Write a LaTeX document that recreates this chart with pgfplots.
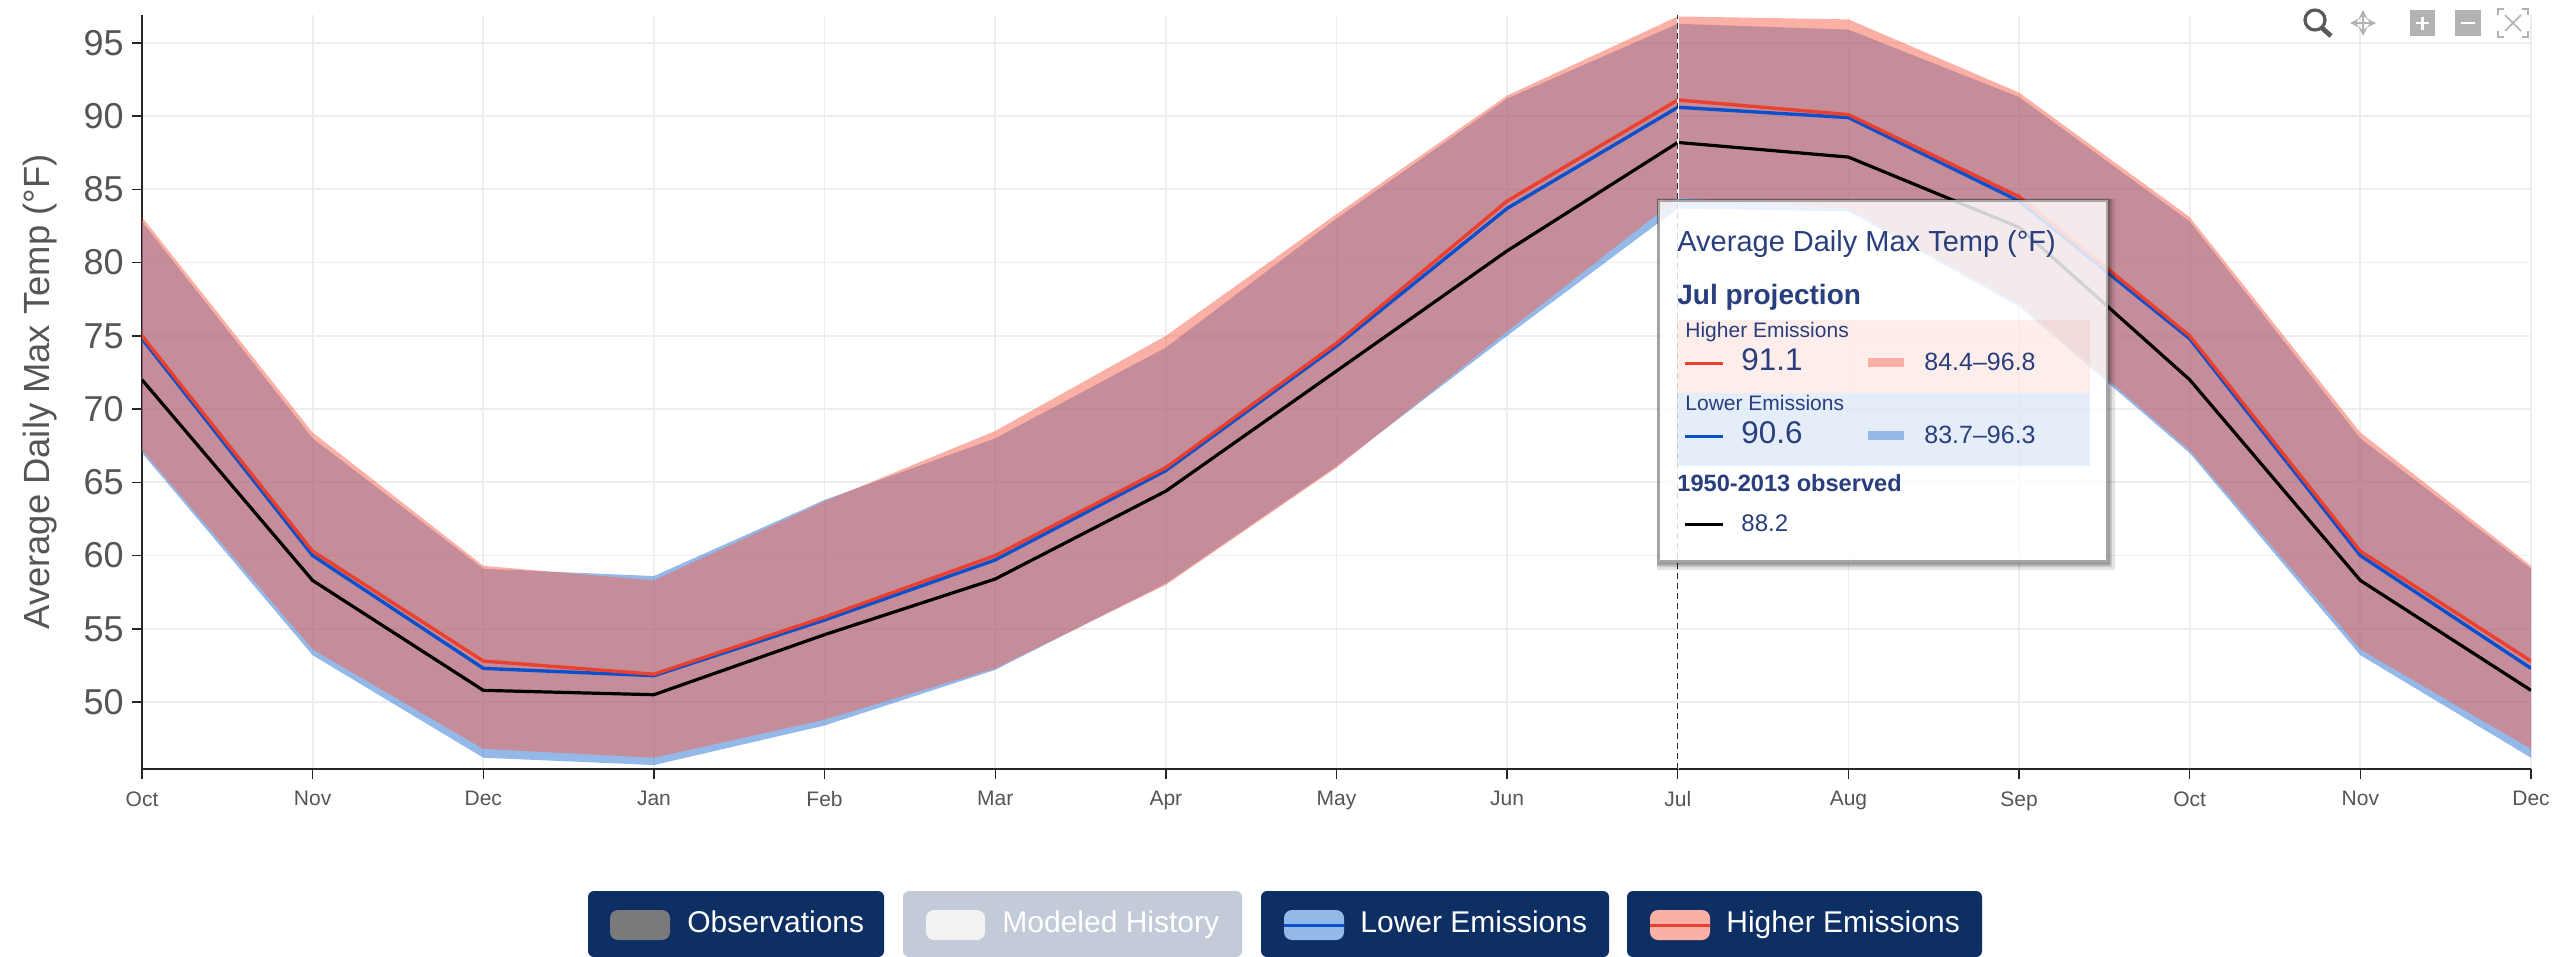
\documentclass[border=0pt]{standalone}
\usepackage{fontspec}
\setmainfont{Liberation Sans}
\usepackage{pgfplots}
\usepackage{pgfplotstable}
\pgfplotsset{compat=1.18}
\definecolor{hiband}{RGB}{247,97,77}
\definecolor{loband}{RGB}{41,113,209}
\definecolor{hiline}{RGB}{235,64,45}
\definecolor{loline}{RGB}{10,80,205}
\definecolor{navy}{RGB}{13,47,99}
\definecolor{tipink}{RGB}{40,62,125}
\definecolor{axtext}{RGB}{85,85,85}
\definecolor{gridc}{RGB}{238,238,238}
\definecolor{hiswatch}{RGB}{251,176,166}
\definecolor{loswatch}{RGB}{148,184,232}
\pgfplotstableread{
x hm lm ob
0 75.0 74.8 72.0
1 60.3 60.0 58.3
2 52.8 52.3 50.8
3 51.9 51.8 50.5
4 55.8 55.6 54.6
5 60.0 59.7 58.4
6 66.0 65.8 64.4
7 74.5 74.3 72.6
8 84.2 83.7 80.8
9 91.1 90.6 88.2
10 90.1 89.9 87.2
11 84.5 84.2 82.4
12 75.0 74.8 72.0
13 60.3 60.0 58.3
14 52.8 52.3 50.8
}\linedata
\newcommand{\txt}[4]{\node[anchor=west,inner sep=0pt,text=#4,text height=0.72em,text depth=0pt,font=\fontsize{#3}{#3}\selectfont] at (#1) {#2};}
\begin{document}
\begin{tikzpicture}
\useasboundingbox (0,0) rectangle (1277pt,-478.5pt);
\begin{axis}[
  at={(71pt,-384.5pt)},anchor=south west,
  scale only axis,width=1194.5pt,height=377pt,
  xmin=0,xmax=14,ymin=45.43,ymax=96.9,
  axis lines=left,axis line style={-,line width=1pt,color=black!85},
  xtick={0,...,14},
  xticklabels={Oct,Nov,Dec,Jan,Feb,Mar,Apr,May,Jun,Jul,Aug,Sep,Oct,Nov,Dec},
  ytick={50,55,...,95},
  grid=major,grid style={color=gridc,line width=0.9pt},
  tick style={color=black!85,line width=0.7pt},
  tick align=outside,
  major tick length=5pt,
  /pgf/number format/assume math mode=true,
  yticklabel style={font=\fontsize{18}{18}\selectfont,text=axtext,inner sep=0pt,xshift=-4pt},
  xticklabel style={font=\fontsize{10.5}{10.5}\selectfont,text=axtext,inner sep=0pt,yshift=-6pt},
  ylabel={Average Daily Max Temp (°F)},
  every axis y label/.style={at={(axis description cs:-0.0427,0.5)},rotate=90,anchor=center,font=\fontsize{18.2}{18.2}\selectfont,text=axtext},
  clip=true,
]
% Lower Emissions range
\addplot[fill=loband,fill opacity=0.5,draw=none,forget plot] coordinates {
 (0,82.8)(1,68.0)(2,59.1)(3,58.6)(4,63.8)(5,68.0)(6,74.2)(7,83.0)(8,91.2)(9,96.3)(10,95.9)(11,91.3)(12,82.8)(13,68.0)(14,59.1)
 (14,46.2)(13,53.2)(12,67.0)(11,77.0)(10,83.5)(9,83.7)(8,75.0)(7,66.1)(6,58.1)(5,52.2)(4,48.4)(3,45.7)(2,46.2)(1,53.2)(0,67.0)} -- cycle;
% Higher Emissions range
\addplot[fill=hiband,fill opacity=0.5,draw=none,forget plot] coordinates {
 (0,83.1)(1,68.4)(2,59.3)(3,58.3)(4,63.7)(5,68.5)(6,75.0)(7,83.3)(8,91.4)(9,96.8)(10,96.6)(11,91.6)(12,83.1)(13,68.4)(14,59.3)
 (14,46.8)(13,53.6)(12,67.2)(11,77.2)(10,83.7)(9,84.4)(8,75.3)(7,66.0)(6,58.0)(5,52.3)(4,48.8)(3,46.2)(2,46.8)(1,53.6)(0,67.2)} -- cycle;
\addplot[loline,line width=1.7pt] table[x=x,y=lm]{\linedata};
\addplot[hiline,line width=1.7pt] table[x=x,y=hm]{\linedata};
\addplot[black,line width=1.6pt] table[x=x,y=ob]{\linedata};
\addplot[white,line width=0.8pt] coordinates {(9,45.43)(9,96.9)};
\addplot[black!85,line width=0.6pt,dash pattern=on 3pt off 2pt] coordinates {(9,45.43)(9,96.9)};
\end{axis}
\begin{scope}[x=0.5pt,y=-0.5pt]
% tooltip shadow, a ring round the box
\fill[black,opacity=0.10,even odd rule] (1657,199) rectangle (2115,570) (1659,201) rectangle (2107,561);
\fill[black,opacity=0.14,even odd rule] (1657,199) rectangle (2112,567) (1659,201) rectangle (2107,561);
\fill[black,opacity=0.20,even odd rule] (1657,199) rectangle (2110,565) (1659,201) rectangle (2107,561);
% tooltip
\fill[white,opacity=0.82] (1659,201) rectangle (2107,561);
\draw[black!35,line width=0.6pt] (1659,201) rectangle (2107,561);
\fill[hiband,opacity=0.11] (1677,320) rectangle (2090,393);
\fill[loband,opacity=0.12] (1677,393) rectangle (2090,466);
\txt{1677,244}{Average Daily Max Temp (°F)}{14.5}{tipink}
\txt{1677,297}{\bfseries Jul projection}{14}{tipink}
\txt{1685,330}{Higher Emissions}{10.5}{tipink}
\draw[hiline,line width=1.5pt] (1685,363) -- (1723,363);
\txt{1741,363}{91.1}{15.7}{tipink}
\fill[hiswatch] (1868,358) rectangle (1904,367);
\txt{1924,363}{84.4–96.8}{12.5}{tipink}
\txt{1685,403}{Lower Emissions}{10.5}{tipink}
\draw[loline,line width=1.5pt] (1685,436) -- (1723,436);
\txt{1741,436}{90.6}{15.7}{tipink}
\fill[loswatch] (1868,431) rectangle (1904,440);
\txt{1924,436}{83.7–96.3}{12.5}{tipink}
\txt{1677,484}{\bfseries 1950-2013 observed}{11.8}{tipink}
\draw[black,line width=1.5pt] (1685,524) -- (1723,524);
\txt{1741,524}{88.2}{12}{tipink}
% legend buttons
\fill[navy,rounded corners=3pt] (588,891) rectangle (884,957);
\fill[navy!25!white,rounded corners=3pt] (903,891) rectangle (1242,957);
\fill[navy,rounded corners=3pt] (1261,891) rectangle (1609,957);
\fill[navy,rounded corners=3pt] (1627,891) rectangle (1982,957);
\fill[black!52,rounded corners=4pt] (610,910) rectangle (670,940);
\fill[black!5,rounded corners=4pt] (926,910) rectangle (985,940);
\fill[loswatch,rounded corners=4pt] (1284,910) rectangle (1344,940);
\draw[loline,line width=1.5pt] (1284,925) -- (1344,925);
\fill[hiswatch,rounded corners=4pt] (1650,910) rectangle (1710,940);
\draw[hiline,line width=1.5pt] (1650,925) -- (1710,925);
\txt{687,925}{Observations}{15}{white}
\txt{1002,925}{Modeled History}{15}{white}
\txt{1360,925}{Lower Emissions}{15}{white}
\txt{1726,925}{Higher Emissions}{15}{white}
% toolbar
\draw[black!65,line width=1.6pt] (2315,20) circle (10);
\draw[black!65,line width=2.4pt] (2322,28) -- (2331,36);
\draw[black!30,line width=1pt,<->,>=stealth] (2350,23) -- (2376,23);
\draw[black!30,line width=1pt,<->,>=stealth] (2363,10) -- (2363,36);
\fill[black!30] (2410,10) rectangle (2435,36);
\draw[white,line width=1.2pt] (2416,23) -- (2429,23) (2422.5,17) -- (2422.5,30);
\fill[black!30] (2455,10) rectangle (2481,36);
\draw[white,line width=1.2pt] (2461,23) -- (2475,23);
\draw[black!30,line width=0.8pt] (2498,15) -- (2498,9) -- (2504,9) (2522,9) -- (2528,9) -- (2528,15) (2528,31) -- (2528,37) -- (2522,37) (2504,37) -- (2498,37) -- (2498,31);
\draw[black!30,line width=0.8pt] (2505,15) -- (2521,31) (2521,15) -- (2505,31);
\end{scope}
\end{tikzpicture}
\end{document}
